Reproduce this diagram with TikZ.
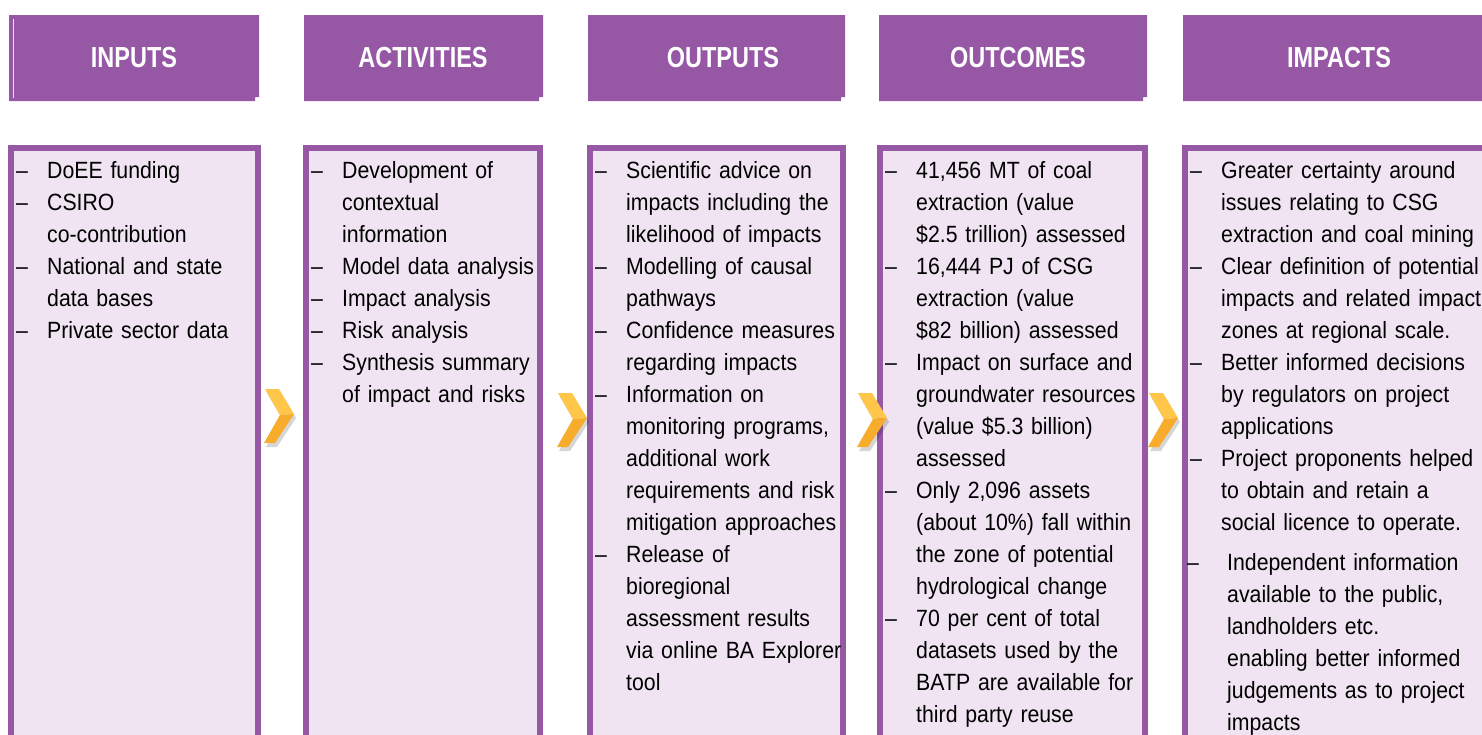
\documentclass[tikz,border=0pt]{standalone}
\usepackage{fontspec}
\newfontfamily\bodyfont[FakeStretch=0.905]{Liberation Sans}
\newfontfamily\headfont[FakeStretch=0.81]{Liberation Sans}
\definecolor{purp}{RGB}{150,87,165}
\definecolor{lav}{RGB}{240,228,242}
\definecolor{goldA}{RGB}{255,198,74}
\definecolor{goldB}{RGB}{247,172,44}
\newlength\dashw \setlength\dashw{31pt}
\newcommand\ditem[1]{{\let\\\newline\hangindent=\dashw\hangafter=1\noindent\makebox[\dashw][l]{–}#1\par}}
\newcommand\headbox[2]{\fill[headfill] (#1,15) -- (#2,15) -- (#2,97) -- ({#2-4},97) -- ({#2-4},101) -- (#1,101) -- cycle;}
\newcommand\contentbox[2]{\draw[bodybox] ({#1+3},148) rectangle ({#2-3},790);}
\newcommand\chev[2]{%
  \begin{scope}[shift={(#1,#2)}]
    \fill[black,opacity=0.16] (3,4) -- (17,4) -- (32,29) -- (13,58) -- (2,58) -- (18,30) -- cycle;
    \fill[goldB] (16,26) -- (30,25) -- (11,54) -- (0,54) -- cycle;
    \fill[goldA] (1,0) -- (15,0) -- (30,25) -- (16,26) -- cycle;
  \end{scope}}
\tikzset{
  headfill/.style={fill=purp},
  headtext/.style={text=white, font=\headfont\bfseries\fontsize{29}{34}\selectfont, inner sep=0},
  bodybox/.style={line width=6pt, draw=purp, fill=lav},
  bodytext/.style={anchor=base west, inner sep=0, text width=460pt,
    font=\bodyfont\fontsize{23.5}{32}\selectfont},
}
\begin{document}
\begin{tikzpicture}[x=1pt,y=-1pt]
\useasboundingbox (0,0) rectangle (1482,734);
\clip (0,0) rectangle (1482,734);
\fill[white] (0,0) rectangle (1482,734);
% headers
\headbox{9}{259}
\draw[white,line width=0.8pt,opacity=0.8] (13,19) -- (13,98);
\headbox{304}{543}
\headbox{588}{845}
\headbox{879}{1147}
\headbox{1183}{1500}
\node[headtext] (hInputs) at (134,58) {INPUTS};
\node[headtext] (hActivities) at (423,58) {ACTIVITIES};
\node[headtext] (hOutputs) at (723,58) {OUTPUTS};
\node[headtext] (hOutcomes) at (1018,58) {OUTCOMES};
\node[headtext] (hImpacts) at (1339,58) {IMPACTS};
% content boxes
\contentbox{8}{261}
\contentbox{303}{543}
\contentbox{587}{846}
\contentbox{877}{1148}
\contentbox{1182}{1540}
% chevrons
\chev{264}{389}
\chev{557}{393}
\chev{857}{393}
\chev{1148}{393}
% texts
\node[bodytext] (tInputs) at (16,178) {%
\ditem{DoEE funding}
\ditem{CSIRO\\co-contribution}
\ditem{National and state\\data bases}
\ditem{Private sector data}};
\node[bodytext] (tActivities) at (311,178) {%
\ditem{Development of\\contextual\\information}
\ditem{Model data analysis}
\ditem{Impact analysis}
\ditem{Risk analysis}
\ditem{Synthesis summary\\of impact and risks}};
\node[bodytext] (tOutputs) at (595,178) {%
\ditem{Scientific advice on\\impacts including the\\likelihood of impacts}
\ditem{Modelling of causal\\pathways}
\ditem{Confidence measures\\regarding impacts}
\ditem{Information on\\monitoring programs,\\additional work\\requirements and risk\\mitigation approaches}
\ditem{Release of\\bioregional\\assessment results\\via online BA Explorer\\tool}};
\node[bodytext] (tOutcomes) at (885,178) {%
\ditem{41,456 MT of coal\\extraction (value\\\$2.5 trillion) assessed}
\ditem{16,444 PJ of CSG\\extraction (value\\\$82 billion) assessed}
\ditem{Impact on surface and\\groundwater resources\\(value \$5.3 billion)\\assessed}
\ditem{Only 2,096 assets\\(about 10\%) fall within\\the zone of potential\\hydrological change}
\ditem{70 per cent of total\\datasets used by the\\BATP are available for\\third party reuse}};
\node[bodytext] (tImpacts) at (1190,178) {%
\ditem{Greater certainty around\\issues relating to CSG\\extraction and coal mining}
\ditem{Clear definition of potential\\impacts and related impact\\zones at regional scale.}
\ditem{Better informed decisions\\by regulators on project\\applications}
\ditem{Project proponents helped\\to obtain and retain a\\social licence to operate.}
\vspace{8pt}{\let\\\newline\hangindent=37pt\hangafter=1\noindent\hspace*{-3pt}\makebox[40pt][l]{–}Independent information\\available to the public,\\landholders etc.\\enabling better informed\\judgements as to project\\impacts\par}};
\end{tikzpicture}
\end{document}
